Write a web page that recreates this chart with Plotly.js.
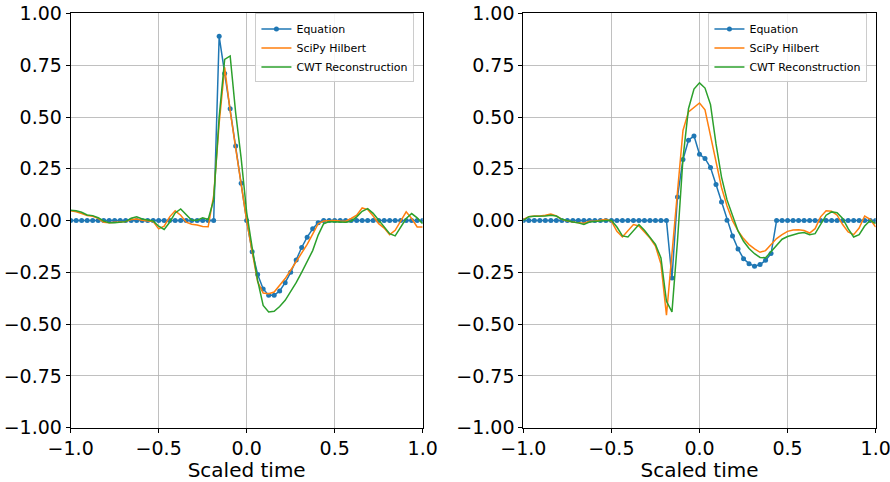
<!DOCTYPE html>
<html>
<head>
<meta charset="utf-8">
<script src="https://cdn.plot.ly/plotly-3.0.1.min.js"></script>
<style>
  html, body { margin: 0; padding: 0; background: #ffffff; }
  #chart { width: 890px; height: 482px; }
</style>
</head>
<body>
<div id="chart"></div>
<script>
// Sampling grid (scaled time), 65 samples on [-1, 1]
const time = [
  -1, -0.96875, -0.9375, -0.90625, -0.875, -0.84375, -0.8125, -0.78125,
  -0.75, -0.71875, -0.6875, -0.65625, -0.625, -0.59375, -0.5625, -0.53125,
  -0.5, -0.46875, -0.4375, -0.40625, -0.375, -0.34375, -0.3125, -0.28125,
  -0.25, -0.21875, -0.1875, -0.15625, -0.125, -0.09375, -0.0625, -0.03125,
  0,
  0.03125, 0.0625, 0.09375, 0.125, 0.15625, 0.1875, 0.21875, 0.25,
  0.28125, 0.3125, 0.34375, 0.375, 0.40625, 0.4375, 0.46875, 0.5,
  0.53125, 0.5625, 0.59375, 0.625, 0.65625, 0.6875, 0.71875, 0.75,
  0.78125, 0.8125, 0.84375, 0.875, 0.90625, 0.9375, 0.96875, 1
];

// Left panel
const equationLeft = [
  0, 0, 0, 0, 0, 0, 0, 0, 0, 0, 0, 0, 0, 0, 0, 0,
  0, 0, 0, 0, 0, 0, 0, 0, 0, 0, 0,
  0.89, 0.71, 0.54, 0.36, 0.18, 0, -0.15, -0.26, -0.33, -0.36, -0.36,
  -0.34, -0.30, -0.25, -0.19, -0.13, -0.08, -0.04, -0.01,
  0, 0, 0, 0, 0, 0, 0, 0, 0, 0, 0, 0, 0, 0, 0, 0, 0, 0, 0
];
const hilbertLeft = [
  0.047, 0.043, 0.034, 0.024, 0.021, 0.011, -0.008, -0.011,
  -0.008, -0.008, -0.005, 0.005, 0.008, 0.002, -0.003, -0.005,
  -0.04, -0.027, 0.018, 0.047, 0.026, -0.008, -0.018, -0.021,
  -0.028, -0.03, 0.12, 0.47, 0.74, 0.53, 0.35, 0.17,
  0.0,
  -0.15, -0.296, -0.35, -0.353, -0.345, -0.315, -0.28, -0.24,
  -0.2, -0.16, -0.115, -0.065, -0.015, -0.002, 0, 0,
  -0.002, -0.003, 0.01, 0.026, 0.061, 0.053, 0.022, -0.015,
  -0.036, -0.068, -0.047, 0.001, 0.042, 0.01, -0.031, -0.031
];
const cwtLeft = [
  0.05, 0.047, 0.04, 0.027, 0.024, 0.014, -0.002, -0.011,
  -0.01, -0.006, -0.005, 0.011, 0.018, 0.008, 0.002, -0.002,
  -0.027, -0.043, -0.008, 0.037, 0.056, 0.027, 0.002, 0.002,
  0.013, 0.005, 0.1, 0.5, 0.778, 0.795, 0.52, 0.3,
  0.04,
  -0.13, -0.29, -0.41, -0.441, -0.438, -0.415, -0.385, -0.345,
  -0.3, -0.25, -0.2, -0.145, -0.07, -0.015, -0.005, -0.007,
  -0.007, -0.008, -0.003, 0.018, 0.045, 0.058, 0.035, 0.001,
  -0.031, -0.063, -0.074, -0.031, 0.01, 0.034, 0.013, -0.015
];

// Right panel
const equationRight = [
  0, 0, 0, 0, 0, 0, 0, 0, 0, 0, 0, 0, 0, 0, 0, 0,
  0, 0, 0, 0, 0, 0, 0, 0, 0, 0, 0,
  -0.277, 0.114, 0.295, 0.388, 0.409, 0.32, 0.30, 0.256, 0.174, 0.09,
  0.002, -0.074, -0.137, -0.184, -0.208, -0.22, -0.212, -0.192, -0.159,
  0, 0, 0, 0, 0, 0, 0, 0, 0, 0, 0, 0, 0, 0, 0, 0, 0, 0, 0
];
const hilbertRight = [
  0.006, 0.019, 0.022, 0.022, 0.026, 0.032, 0.022, 0.006,
  -0.002, -0.007, -0.011, -0.013, -0.003, -0.003, 0, 0.006,
  -0.003, -0.052, -0.079, -0.047, -0.019, -0.026, -0.055, -0.084,
  -0.123, -0.21, -0.457, -0.15, 0.12, 0.435, 0.525, 0.545,
  0.568,
  0.535, 0.41, 0.27, 0.16, 0.07, 0.0, -0.05, -0.087,
  -0.116, -0.137, -0.153, -0.145, -0.115, -0.087, -0.068, -0.052,
  -0.045, -0.044, -0.048, -0.06, -0.039, 0.018, 0.047, 0.045,
  0.026, -0.019, -0.055, -0.068, -0.036, 0.022, 0.006, -0.031
];
const cwtRight = [
  0.001, 0.019, 0.021, 0.021, 0.022, 0.026, 0.022, 0.006,
  -0.002, -0.007, -0.011, -0.019, -0.007, -0.003, -0.002, 0,
  0.001, -0.031, -0.074, -0.079, -0.047, -0.019, -0.047, -0.079,
  -0.115, -0.18, -0.39, -0.441, -0.1, 0.3, 0.54, 0.635,
  0.665,
  0.64, 0.56, 0.37, 0.21, 0.1, 0.02, -0.05, -0.1,
  -0.135, -0.16, -0.178, -0.18, -0.15, -0.115, -0.09, -0.077,
  -0.068, -0.061, -0.058, -0.068, -0.063, -0.019, 0.026, 0.042,
  0.038, 0.01, -0.039, -0.079, -0.068, -0.026, 0.001, -0.015
];

const seriesNames = ['Equation', 'SciPy Hilbert', 'CWT Reconstruction'];
const seriesColors = ['#1f77b4', '#ff7f0e', '#2ca02c'];
const xTicks = [-1, -0.5, 0, 0.5, 1];
const yTicks = [-1, -0.75, -0.5, -0.25, 0, 0.25, 0.5, 0.75, 1];

function panel(values, xa, ya, legendId) {
  return values.map((v, k) => ({
    type: 'scatter',
    x: time,
    y: v,
    name: seriesNames[k],
    xaxis: xa,
    yaxis: ya,
    legend: legendId,
    mode: k === 0 ? 'lines+markers' : 'lines',
    line: { color: seriesColors[k], width: 1.5 },
    marker: { color: seriesColors[k], size: 5 },
    hoverinfo: 'skip'
  }));
}

const traces = [
  ...panel([equationLeft, hilbertLeft, cwtLeft], 'x', 'y', 'legend'),
  ...panel([equationRight, hilbertRight, cwtRight], 'x2', 'y2', 'legend2')
];

const font = { family: 'DejaVu Sans, sans-serif', color: '#000000' };

function xAxis(domain, anchor) {
  return {
    domain: domain, anchor: anchor, range: [-1, 1],
    tickvals: xTicks, tickformat: '.1f',
    ticklabeloverflow: 'allow',
    showgrid: true, gridcolor: '#b0b0b0', gridwidth: 0.8,
    zeroline: false,
    showline: true, mirror: true, linecolor: '#000000', linewidth: 1,
    ticks: 'outside', ticklen: 4, tickcolor: '#000000',
    tickfont: { ...font, size: 19 },
    title: { text: 'Scaled time', font: { ...font, size: 20 }, standoff: 3 }
  };
}
function yAxis(anchor) {
  return {
    domain: [0.1127, 0.972], anchor: anchor, range: [-1, 1],
    tickvals: yTicks, tickformat: '.2f',
    ticklabeloverflow: 'allow',
    showgrid: true, gridcolor: '#b0b0b0', gridwidth: 0.8,
    zeroline: false,
    showline: true, mirror: true, linecolor: '#000000', linewidth: 1,
    ticks: 'outside', ticklen: 4, tickcolor: '#000000',
    tickfont: { ...font, size: 19 }
  };
}
function legendBox(x) {
  return {
    x: x, y: 0.972, xanchor: 'left', yanchor: 'top',
    bgcolor: 'rgba(255,255,255,0.85)', bordercolor: '#cccccc', borderwidth: 1,
    font: { ...font, size: 11 }, tracegroupgap: 0
  };
}

const layout = {
  width: 890, height: 482,
  margin: { l: 0, r: 0, t: 0, b: 0 },
  paper_bgcolor: '#ffffff', plot_bgcolor: '#ffffff',
  font: font,
  showlegend: true,
  xaxis: xAxis([0.0794, 0.4749], 'y'),
  yaxis: yAxis('x'),
  xaxis2: xAxis([0.588, 0.9839], 'y2'),
  yaxis2: yAxis('x2'),
  legend: legendBox(0.287),
  legend2: legendBox(0.796)
};

Plotly.newPlot('chart', traces, layout, { displayModeBar: false, staticPlot: true });
</script>
</body>
</html>
